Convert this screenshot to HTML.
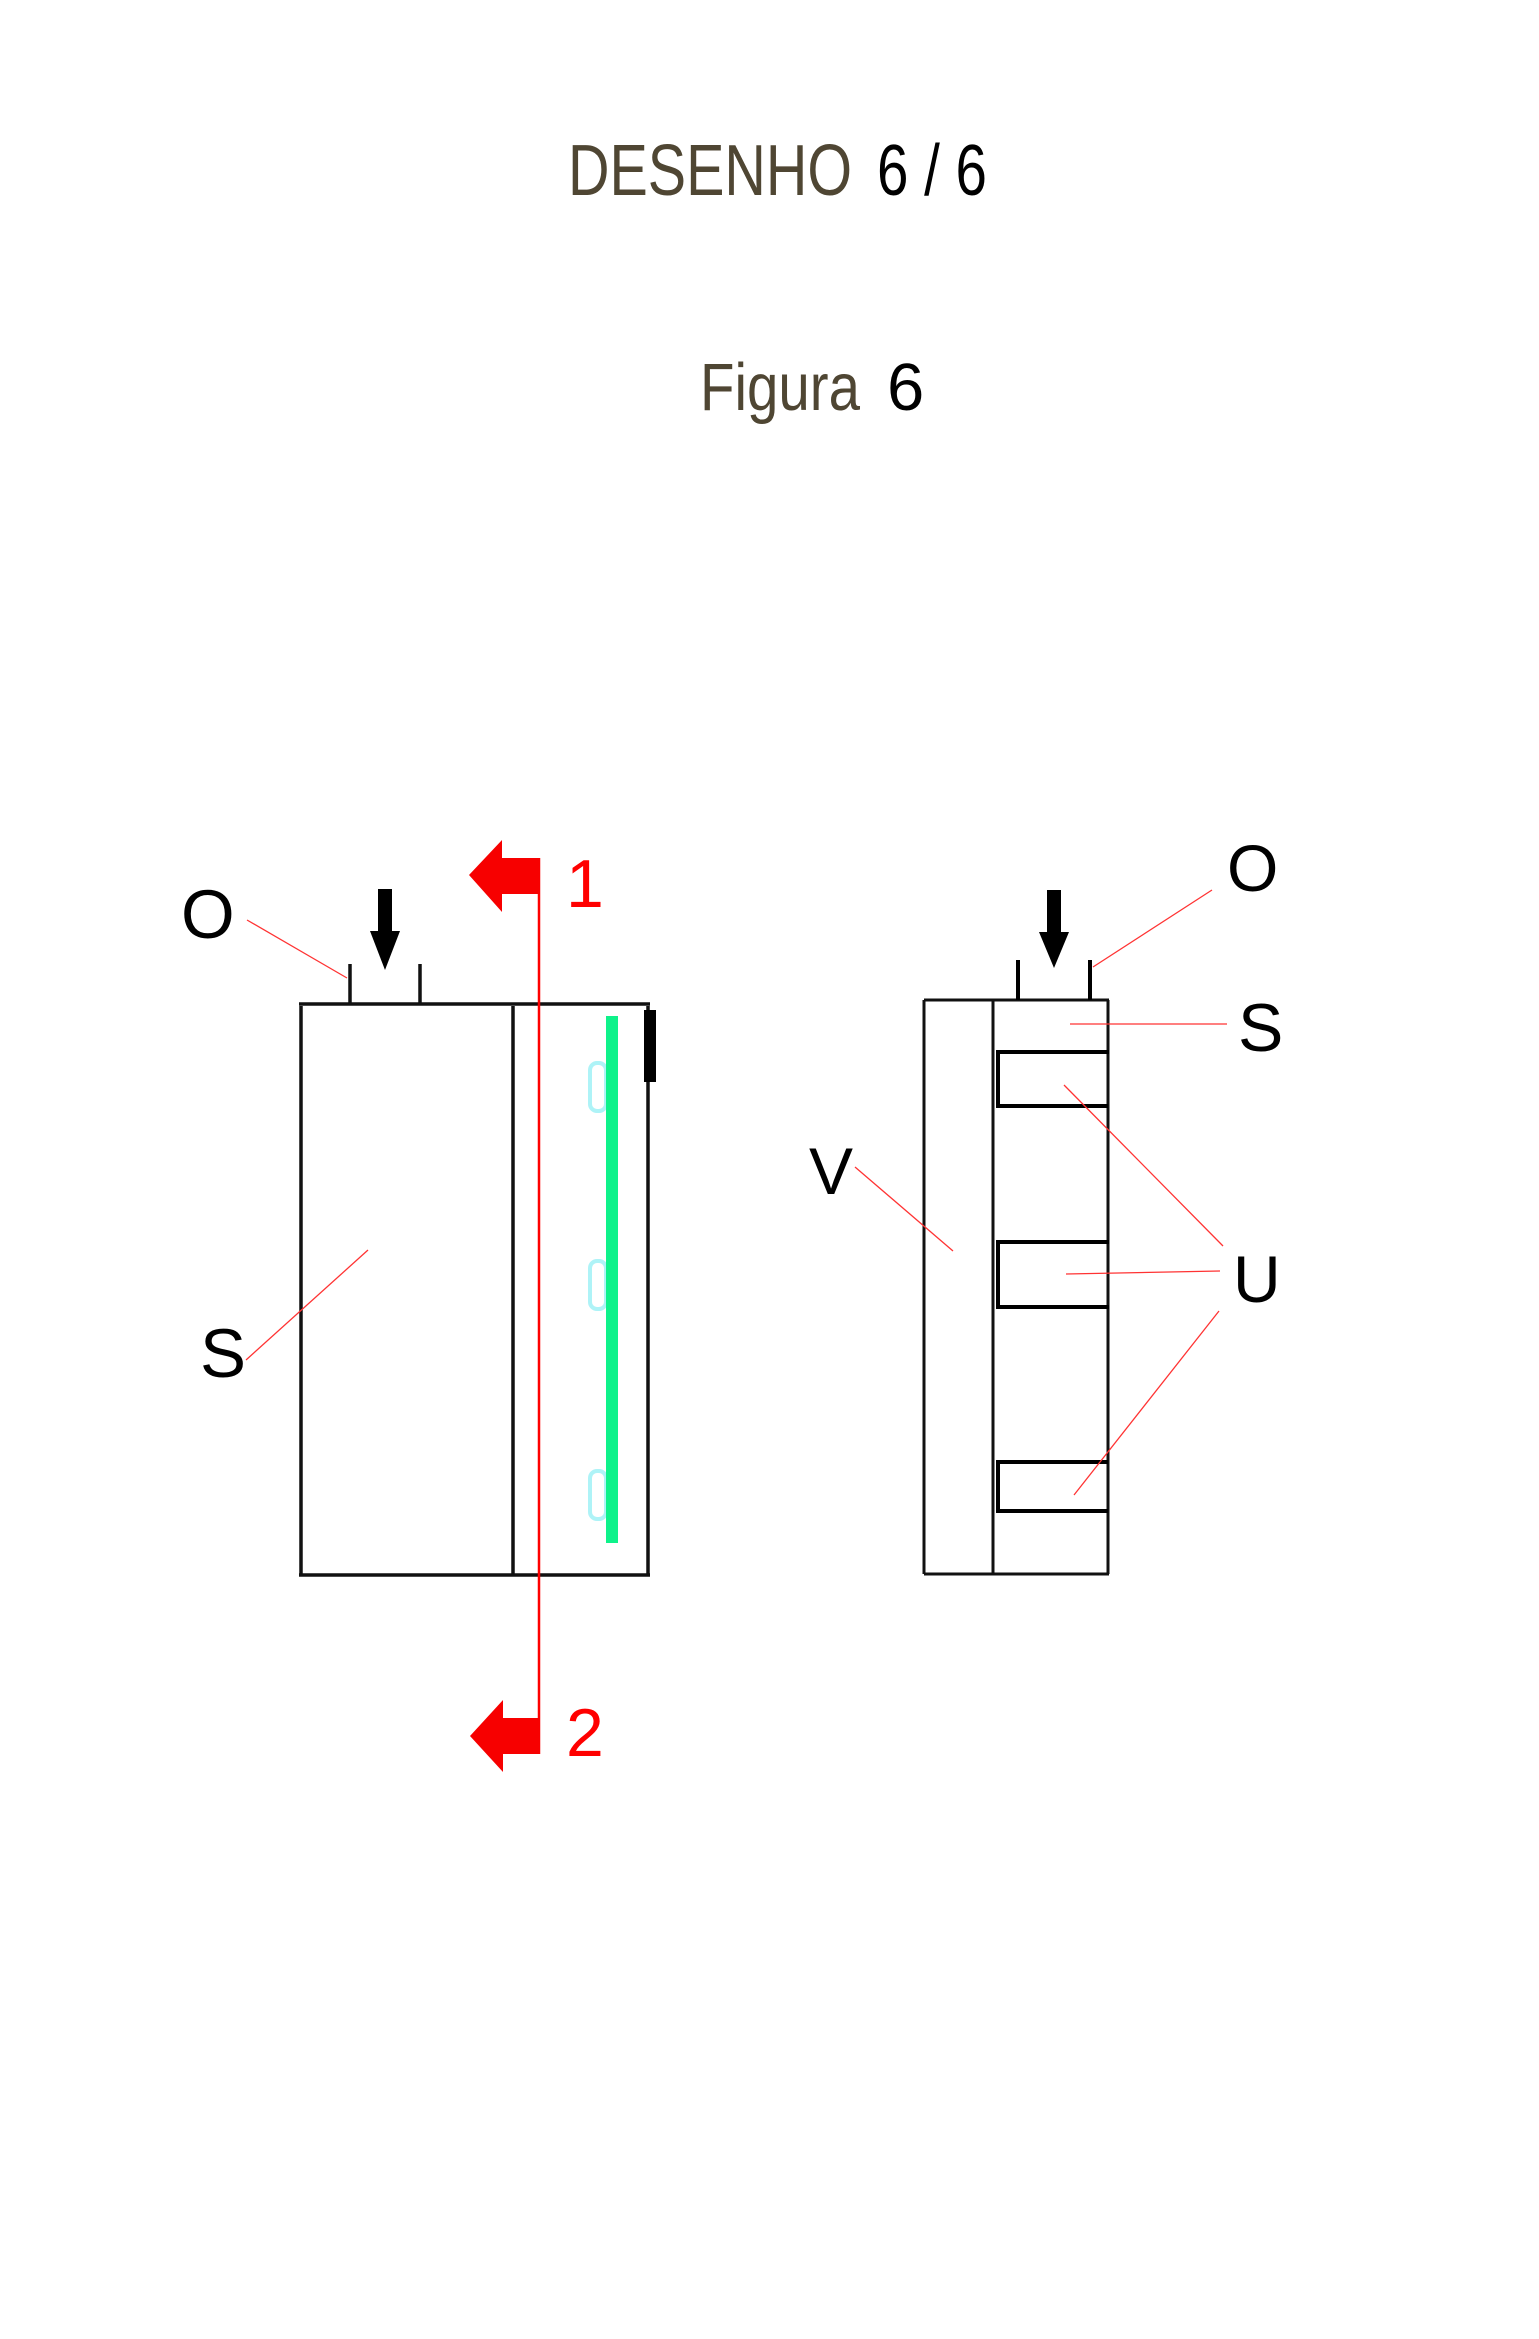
<!DOCTYPE html>
<html><head><meta charset="utf-8"><style>html,body{margin:0;padding:0;background:#fff}svg{display:block}</style></head>
<body>
<svg width="1539" height="2339" viewBox="0 0 1539 2339" xmlns="http://www.w3.org/2000/svg" font-family="Liberation Sans, Arial, sans-serif">
<rect width="1539" height="2339" fill="#fff"/>
<!-- titles -->
<text x="568" y="195" font-size="72" fill="#4f4633" textLength="284" lengthAdjust="spacingAndGlyphs">DESENHO</text>
<text x="877" y="195" font-size="72" fill="#000" textLength="110" lengthAdjust="spacingAndGlyphs">6 / 6</text>
<text x="700" y="410" font-size="67" fill="#4f4633" textLength="160" lengthAdjust="spacingAndGlyphs">Figura</text>
<text x="887" y="410" font-size="67" fill="#000">6</text>

<!-- LEFT DRAWING -->
<g stroke="#111" stroke-width="3.5" fill="none">
<line x1="299" y1="1004" x2="650" y2="1004"/>
<line x1="301" y1="1006" x2="301" y2="1575"/>
<line x1="513" y1="1006" x2="513" y2="1575"/>
<line x1="648" y1="1006" x2="648" y2="1575"/>
<line x1="299" y1="1575" x2="650" y2="1575"/>
<line x1="350" y1="964" x2="350" y2="1004"/>
<line x1="420" y1="964" x2="420" y2="1004"/>
</g>
<rect x="644" y="1010" width="12" height="72" fill="#000"/>
<rect x="378" y="889" width="14" height="44" fill="#000"/>
<polygon points="370,931 400,931 385,970" fill="#000"/>
<!-- cyan bumps -->
<g stroke="#aef3f7" stroke-width="4" fill="none">
<rect x="590" y="1063" width="16" height="48" rx="7"/>
<rect x="590" y="1261" width="16" height="48" rx="7"/>
<rect x="590" y="1471" width="16" height="48" rx="7"/>
</g>
<rect x="606" y="1016" width="12" height="527" fill="#0ef28a"/>
<!-- red section line -->
<line x1="539" y1="858" x2="539" y2="1754" stroke="#f00" stroke-width="2.5"/>
<polygon points="469,875 502,840 502,858 540,858 540,894 502,894 502,912" fill="#f70000"/>
<polygon points="470,1736 503,1700 503,1718 540,1718 540,1754 503,1754 503,1772" fill="#f70000"/>
<text x="566" y="907" font-size="68" fill="#f00">1</text>
<text x="566" y="1756" font-size="68" fill="#f00">2</text>
<!-- left labels -->
<text x="181" y="938" font-size="69" fill="#000">O</text>
<text x="200" y="1377" font-size="69" fill="#000">S</text>
<g stroke="#f33" stroke-width="1.3">
<line x1="247" y1="920" x2="347" y2="978"/>
<line x1="246" y1="1360" x2="368" y2="1250"/>
</g>

<!-- RIGHT DRAWING -->
<g stroke="#111" stroke-width="3" fill="none">
<line x1="924" y1="1000" x2="1109" y2="1000"/>
<line x1="924" y1="1000" x2="924" y2="1574"/>
<line x1="993" y1="1000" x2="993" y2="1574"/>
<line x1="1108" y1="1000" x2="1108" y2="1574"/>
<line x1="924" y1="1574" x2="1109" y2="1574"/>
</g>
<g stroke="#000" stroke-width="4" fill="none">
<polyline points="1109,1052 998,1052 998,1106 1108,1106"/>
<polyline points="1109,1242 998,1242 998,1307 1109,1307"/>
<polyline points="1108,1462 998,1462 998,1511 1108,1511"/>
<line x1="1018" y1="960" x2="1018" y2="1000"/>
<line x1="1090" y1="960" x2="1090" y2="1000"/>
</g>
<rect x="1047" y="890" width="14" height="44" fill="#000"/>
<polygon points="1039,932 1069,932 1054,968" fill="#000"/>
<text x="1227" y="891" font-size="66" fill="#000">O</text>
<text x="1238" y="1051" font-size="68" fill="#000">S</text>
<text x="809" y="1194" font-size="66" fill="#000">V</text>
<text x="1233" y="1302" font-size="66" fill="#000">U</text>
<g stroke="#f33" stroke-width="1.3">
<line x1="1212" y1="890" x2="1093" y2="967"/>
<line x1="1070" y1="1024" x2="1227" y2="1024"/>
<line x1="855" y1="1167" x2="953" y2="1251"/>
<line x1="1064" y1="1085" x2="1223" y2="1246"/>
<line x1="1066" y1="1274" x2="1220" y2="1271"/>
<line x1="1219" y1="1311" x2="1074" y2="1495"/>
</g>
</svg>
</body></html>
